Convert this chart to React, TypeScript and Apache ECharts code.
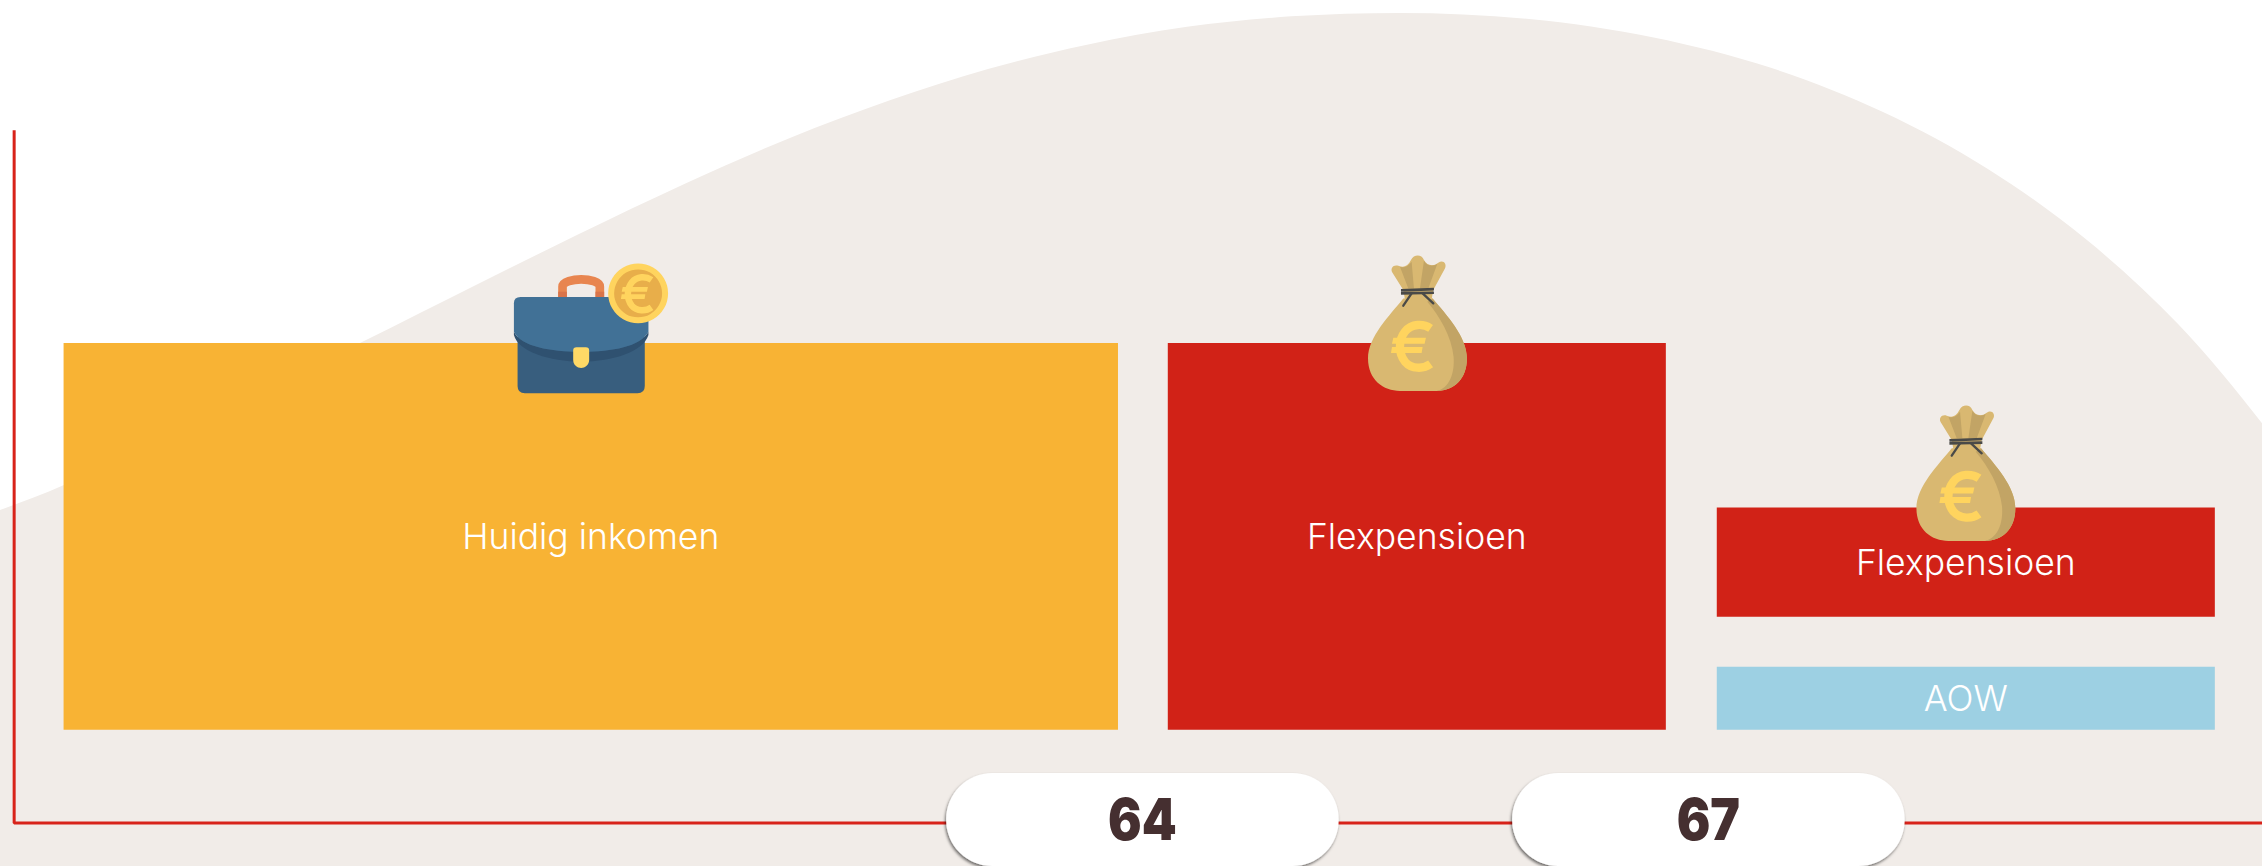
import React, { useEffect, useRef } from "react";
import * as echarts from "echarts";

// Axis frame: ages on x, income (current income = 100) on y
const AGE_MIN = 57.95;
const AGE_MAX = 69.94;
const INCOME_MIN = -35.1;
const INCOME_MAX = 188.63;

// Background income curve (runs just past both edges of the frame)
const curveAges = [57.526, 57.95, 58.289, 59.01, 59.858, 60.494, 61.008, 61.586, 62.137, 62.667, 63.187, 63.712, 64.242, 64.793, 65.371, 66.055, 66.709, 67.337, 67.931, 68.487, 69.012, 69.495, 69.94, 70.353];
const curveValues = [49.1, 56.85, 63.3, 80.1, 100, 115.5, 127.9, 141.3, 153.0, 162.7, 170.8, 177.1, 181.7, 184.4, 185.3, 183.7, 179.0, 171.1, 159.7, 145.0, 126.6, 104.9, 79.3, 51.7];

// Income blocks
const blockLabels = ["Huidig inkomen", "Flexpensioen", "Flexpensioen", "AOW"];
const blockStarts = [58.287, 64.14, 67.05, 67.05];
const blockEnds = [63.876, 66.78, 69.69, 69.69];
const blockLows = [0.1, 0.1, 29.3, 0.1];
const blockHighs = [100, 100, 57.5, 16.4];
const blockColors = ["#f8b334", "#d12217", "#d12217", "#9dd0e3"];

// Axis lines
const axisAges = [58.025, 58.025, 69.94];
const axisValues = [155, -24, -24];

// Age markers
const markerAges = [64, 67];
const AXIS_LEVEL = -24;

// Icon anchors
const iconKinds = ["case", "bag", "bag"];
const iconAges = [60.494, 65.053, 67.96];
const iconValues = [126.6, 126.6, 87.86];

const FONT = "Inter, sans-serif";

const TAN = "#d9b871";
const TAN_DARK = "#c2a465";
const GOLD = "#ffd45e";

function registerIcons() {
  const reg = (name: string, d: string) =>
    echarts.graphic.registerShape(name, echarts.graphic.extendPath(d, {}));
  reg("bagBody", "M190,175 C150,225 84,290 84,355 C84,420 130,453 180,453 L290,453 C345,453 381,415 381,355 C381,290 320,225 278,175 Z");
  reg("bagShade", "M278,175 C320,225 381,290 381,355 C381,415 345,453 290,453 C328,445 345,400 341,350 C335,290 300,230 262,185 Z");
  reg("bagNeck", "M190,150 L157,97 C150,85 160,72 175,77 C195,85 205,75 213,60 C222,42 245,42 252,60 C262,78 280,80 295,68 C310,57 322,72 315,85 L280,150 L275,178 L195,178 Z");
  reg("bagFolds", "M180,80 C195,85 205,78 215,65 L222,145 L205,145 Z M252,62 C262,78 275,80 292,72 L265,145 L240,145 Z");
  reg("bagTie", "M183,147 L282,143 L282,151 L183,155 Z M183,156 L282,154 L282,162 L183,164 Z");
  reg("bagStrings", "M215,160 L190,197 M248,160 L280,190");
  reg("euroArc", "M272,265 C250,250 215,250 195,275 C175,300 175,340 195,365 C215,388 250,388 272,372");
  reg("euroBars", "M160,293 L258,293 L254,311 L156,311 Z M156,321 L248,321 L245,339 L153,339 Z");
  reg("caseHandle", "M248,171 L248,140 C248,125 280,118 304,118 C330,118 360,125 360,140 L360,171");
  reg("caseBase", "M113,290 L495,290 L495,438 Q495,460 473,460 L135,460 Q113,460 113,438 Z");
  reg("caseFold", "M102,275 C125,320 210,335 304,335 C400,335 480,320 506,275 L506,285 C490,335 400,365 304,365 C210,365 115,335 102,285 Z");
  reg("caseFlap", "M102,190 Q102,171 122,171 L486,171 Q506,171 506,190 L506,275 C480,320 400,335 304,335 C210,335 125,320 102,275 Z");
  reg("caseClasp", "M280,332 Q280,322 290,322 L318,322 Q328,322 328,332 L328,360 C328,375 315,384 304,384 C292,384 280,375 280,360 Z");
}

function euro(color: string, x = 0, y = 0, scale = 1) {
  return {
    type: "group",
    x,
    y,
    scaleX: scale,
    scaleY: scale,
    children: [
      { type: "euroArc", style: { fill: "none", stroke: color, lineWidth: 25 } },
      { type: "euroBars", style: { fill: color } },
    ],
  };
}

function bagParts() {
  return [
    { type: "bagNeck", style: { fill: TAN } },
    { type: "bagFolds", style: { fill: TAN_DARK } },
    { type: "bagBody", style: { fill: TAN } },
    { type: "bagShade", style: { fill: TAN_DARK } },
    { type: "bagTie", style: { fill: "#4a4a48" } },
    { type: "bagStrings", style: { fill: "none", stroke: "#4a4a48", lineWidth: 7, lineCap: "round" } },
    euro(GOLD),
  ];
}

function caseParts() {
  return [
    { type: "caseHandle", style: { fill: "none", stroke: "#e8854f", lineWidth: 26 } },
    { type: "rect", shape: { x: 235, y: 155, width: 26, height: 18 }, style: { fill: "#d9744a" } },
    { type: "rect", shape: { x: 347, y: 155, width: 26, height: 18 }, style: { fill: "#d9744a" } },
    { type: "caseBase", style: { fill: "#385e7e" } },
    { type: "caseFold", style: { fill: "#2f5170" } },
    { type: "caseFlap", style: { fill: "#417196" } },
    { type: "caseClasp", style: { fill: "#ffd966" } },
    { type: "circle", shape: { cx: 475, cy: 160, r: 90 }, style: { fill: GOLD } },
    { type: "circle", shape: { cx: 475, cy: 160, r: 72 }, style: { fill: "#e8ae4a" } },
    euro(GOLD, 305, -85, 0.77),
  ];
}

export default function App() {
  const ref = useRef<HTMLDivElement>(null);

  useEffect(() => {
    document.body.style.margin = "0";
    document.body.style.background = "#ffffff";
    registerIcons();
    const chart = echarts.init(ref.current!, undefined, { renderer: "svg" });

    const blockData = blockLabels.map((label, i) => [blockStarts[i], blockEnds[i], blockLows[i], blockHighs[i]]);
    const markerData = markerAges.map((age) => [age, AXIS_LEVEL]);
    const iconData = iconAges.map((a, i) => [a, iconValues[i]]);

    chart.setOption({
      animation: false,
      backgroundColor: "#ffffff",
      grid: { left: 0, right: 0, top: 0, bottom: 0, containLabel: false },
      xAxis: { type: "value", min: AGE_MIN, max: AGE_MAX, show: false },
      yAxis: { type: "value", min: INCOME_MIN, max: INCOME_MAX, show: false },
      series: [
        {
          type: "line",
          z: 1,
          smooth: 0.33,
          symbol: "none",
          lineStyle: { width: 0 },
          areaStyle: { color: "#f1ece8", opacity: 1, origin: "start" },
          data: curveAges.map((a, i) => [a, curveValues[i]]),
        },
        {
          type: "line",
          z: 2,
          symbol: "none",
          lineStyle: { width: 3, color: "#d8231a" },
          data: axisAges.map((a, i) => [a, axisValues[i]]),
        },
        {
          type: "custom",
          z: 3,
          data: blockData,
          renderItem: (p: any, api: any) => {
            const tl = api.coord([api.value(0), api.value(3)]);
            const br = api.coord([api.value(1), api.value(2)]);
            const i = p.dataIndex;
            return {
              type: "group",
              children: [
                {
                  type: "rect",
                  shape: { x: tl[0], y: tl[1], width: br[0] - tl[0], height: br[1] - tl[1] },
                  style: { fill: blockColors[i] },
                },
                {
                  type: "text",
                  x: (tl[0] + br[0]) / 2,
                  y: (tl[1] + br[1]) / 2,
                  style: {
                    text: blockLabels[i],
                    fill: "#ffffff",
                    font: `300 35.5px ${FONT}`,
                    align: "center",
                    verticalAlign: "middle",
                  },
                },
              ],
            };
          },
        },
        {
          type: "custom",
          z: 4,
          silent: true,
          data: iconData,
          renderItem: (p: any, api: any) => {
            const c = api.coord([api.value(0), api.value(1)]);
            return {
              type: "group",
              x: c[0],
              y: c[1],
              scaleX: 1 / 3,
              scaleY: 1 / 3,
              children: iconKinds[p.dataIndex] === "case" ? caseParts() : bagParts(),
            };
          },
        },
        {
          type: "custom",
          z: 5,
          data: markerData,
          renderItem: (p: any, api: any) => {
            const c = api.coord([api.value(0), api.value(1)]);
            return {
              type: "group",
              children: [
                {
                  type: "rect",
                  shape: { x: c[0] - 195.2, y: c[1] - 50, width: 392.5, height: 93, r: 46 },
                  style: {
                    fill: "#ffffff",
                    shadowColor: "rgba(0,0,0,0.55)",
                    shadowBlur: 3,
                    shadowOffsetX: -1,
                    shadowOffsetY: 2,
                  },
                },
                {
                  type: "text",
                  x: c[0] + 1,
                  y: c[1] - 4,
                  scaleX: 0.86,
                  style: {
                    text: String(markerAges[p.dataIndex]),
                    fill: "#452f30",
                    font: `900 58px ${FONT}`,
                    align: "center",
                    verticalAlign: "middle",
                  },
                },
              ],
            };
          },
        },
      ],
    });

    return () => chart.dispose();
  }, []);

  return <div ref={ref} style={{ position: "absolute", left: 0, top: 0, width: 2262, height: 866, overflow: "hidden" }} />;
}
